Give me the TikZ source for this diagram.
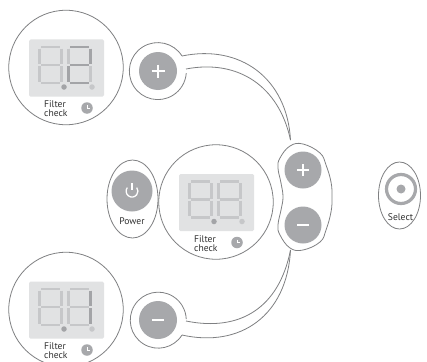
\documentclass[tikz,border=0pt]{standalone}
\usepackage{fontspec}
\usetikzlibrary{calc,shapes.geometric}
\setmainfont{PT Sans}
\definecolor{btn}{HTML}{A7A8AB}
\definecolor{edge}{HTML}{7F8082}
\definecolor{panel}{HTML}{E1E2E3}
\definecolor{segoff}{HTML}{C6C7C9}
\definecolor{segdark}{HTML}{A3A4A7}
\definecolor{txt}{HTML}{303030}
\tikzset{
  outline/.style={draw=edge,line width=0.8pt},
  bigcircle/.style={circle,outline,fill=white,inner sep=0pt,minimum size=114.5pt},
  button/.style={circle,fill=btn,inner sep=0pt,minimum size=#1},
  glyph/.style={draw=white,line width=2.6pt},
  panelbox/.style={rectangle,fill=panel,rounded corners=1.5pt,inner sep=0pt,minimum width=75pt,minimum height=57pt},
  label/.style={text=txt,font=\fontsize{9.6}{9.4}\selectfont,inner sep=0pt,align=left},
  segoffst/.style={draw=segoff,line width=2.4pt},
  segonst/.style={draw=segdark,line width=2.4pt},
}
\newcommand{\segA}[1]{\draw[#1] (1.5,0) -- (20.5,0);}
\newcommand{\segB}[1]{\draw[#1] (22,1.5) -- (22,17);}
\newcommand{\segC}[1]{\draw[#1] (22,19) -- (22,34.5);}
\newcommand{\segD}[1]{\draw[#1] (1.5,36) -- (20.5,36);}
\newcommand{\segE}[1]{\draw[#1] (0,19) -- (0,34.5);}
\newcommand{\segF}[1]{\draw[#1] (0,1.5) -- (0,17);}
\newcommand{\segG}[1]{\draw[#1] (1.5,18) -- (20.5,18);}
\newcommand{\digitat}[3]{%
  \begin{scope}[shift={(#1,#2)}]
    \foreach \s in {A,B,C,D,E,F,G} {\csname seg\s\endcsname{segoffst}}
    \foreach \s in #3 {\csname seg\s\endcsname{segonst}}
  \end{scope}}
% name, cx, cy, lit first digit, lit second digit
\newcommand{\display}[5]{%
  \node[bigcircle] (#1) at (#2,#3) {};
  \begin{scope}[shift={(#2,#3)}]
    \node[panelbox] (#1panel) at (0.5,0.5) {};
    \digitat{-26.5}{-20.5}{#4}
    \digitat{2.5}{-20.5}{#5}
    \node[circle,fill=segdark,inner sep=0pt,minimum size=5.5pt] (#1dotL) at (-2,19.5) {};
    \node[circle,fill=segoff,inner sep=0pt,minimum size=5.5pt] (#1dotR) at (26,19.5) {};
    \node[label,anchor=north west] (#1label) at (-22,33) {Filter\\check};
    \node[circle,fill=btn,inner sep=0pt,minimum size=11.5pt] (#1clock) at (21,40.5) {};
    \draw[white,line width=0.9pt] (#1clock.center) ++(0,-3) -- (#1clock.center) -- ++(3,0);
  \end{scope}}
\begin{document}
\begin{tikzpicture}[x=1pt,y=-1pt]
\useasboundingbox (0,0) rectangle (427,361);
\fill[white] (0,0) rectangle (427,361);

% tails
\coordinate (joinTop) at (290.5,140);
\coordinate (joinBot) at (290.5,250);
\draw[outline] (182,56) .. controls (240,44) and (287,78) .. (joinTop);
\draw[outline] (186,69) .. controls (238,59) and (279,86) .. (joinTop);
\draw[outline] (186,321) .. controls (240,332) and (279,308) .. (joinBot);
\draw[outline] (182,335) .. controls (240,348) and (287,316) .. (joinBot);

% plus / minus callouts
\draw[outline] (182,56) arc[start angle=-32,end angle=-356,radius=28.5];
\node[button=38pt] (plusB) at (158,71) {};
\draw[glyph] ($(plusB.center)+(-6.5,0)$) -- ($(plusB.center)+(6.5,0)$);
\draw[glyph] ($(plusB.center)+(0,-6.5)$) -- ($(plusB.center)+(0,6.5)$);
\draw[outline] (182,335) arc[start angle=32,end angle=358,radius=28];
\node[button=38pt] (minusB) at (158,320) {};
\draw[glyph] ($(minusB.center)+(-6,0)$) -- ($(minusB.center)+(6,0)$);

% displays
\display{top}{66}{67.5}{{}}{{A,B,G,E,D}}
\display{mid}{216}{202}{{}}{{}}
\display{bot}{66}{309.5}{{}}{{B,C}}

% power
\node[ellipse,outline,inner sep=0pt,minimum width=51pt,minimum height=78pt] (powerOval) at (132.5,199) {};
\node[button=41pt] (powerB) at (132,191) {};
\draw[draw=white,line width=1.3pt] ($(powerB.center)+(-4.7,-3.4)$) arc[start angle=217,end angle=-37,radius=5.9];
\draw[draw=white,line width=1.3pt] ($(powerB.center)+(0,-8)$) -- ($(powerB.center)+(0,-1)$);
\node[label,anchor=center] (powerT) at (132,221) {Power};

% central pill
\draw[outline] plot[smooth cycle,tension=0.7] coordinates {(303,144) (320,153) (326,165) (331,182) (332,197) (331,212) (326,230) (320,242) (303,250) (290,248) (280,235) (278,225) (281,210) (283,197) (281,183) (278,168) (280,158) (290,146)};
\node[button=37pt] (upB) at (303,170) {};
\draw[glyph] ($(upB.center)+(-6,0)$) -- ($(upB.center)+(6,0)$);
\draw[glyph] ($(upB.center)+(0,-6)$) -- ($(upB.center)+(0,6)$);
\node[button=37pt] (downB) at (303,225) {};
\draw[glyph] ($(downB.center)+(-6,0)$) -- ($(downB.center)+(6,0)$);

% select
\node[ellipse,outline,inner sep=0pt,minimum width=42pt,minimum height=67pt] (selectOval) at (399.5,195.5) {};
\node[circle,draw=btn,line width=3.2pt,inner sep=0pt,minimum size=29pt] (selectRing) at (401,189) {};
\node[circle,fill=btn,inner sep=0pt,minimum size=9pt] (selectDot) at (selectRing.center) {};
\node[label,anchor=center] (selectT) at (400.5,217) {Select};
\end{tikzpicture}
\end{document}
